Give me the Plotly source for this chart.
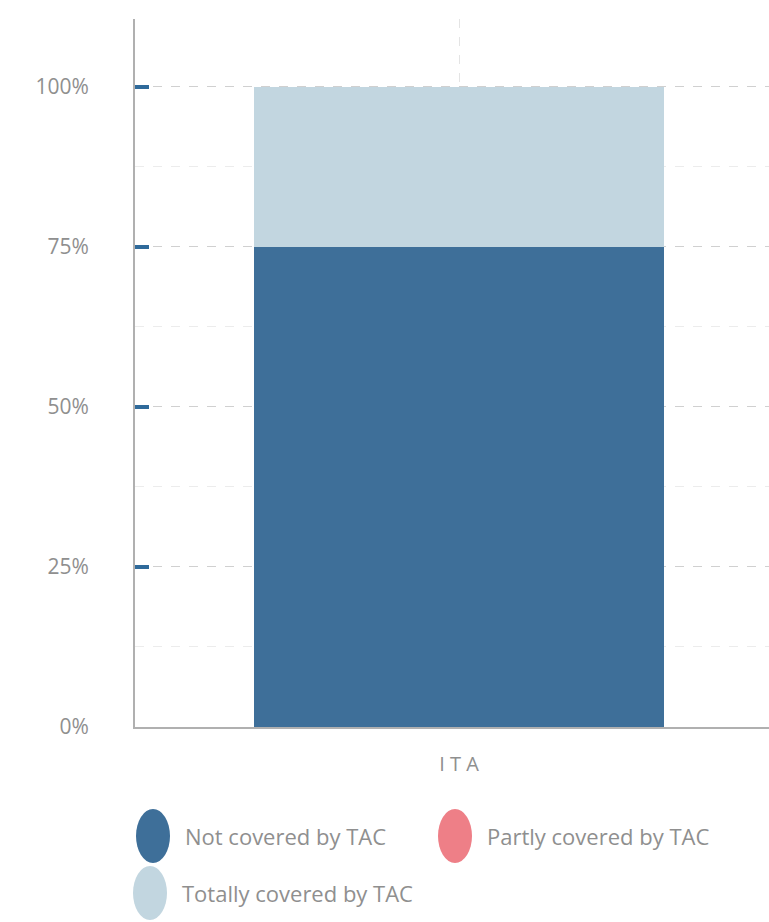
import plotly.graph_objects as go

categories = ["ITA"]
series_names = ["Not covered by TAC", "Partly covered by TAC", "Totally covered by TAC"]
series_values = [[75], [0], [25]]
series_colors = ["#3e6f99", "#ee7f87", "#c2d6e0"]
y_tickvals = [0, 25, 50, 75, 100]
y_ticktext = ["0%", "25%", "50%", "75%", "100%"]

W, H = 769, 922
L, R, T, B = 135, 0, 19, 195
pw, ph = W - L - R, H - T - B

fig = go.Figure()
for name, vals, col in zip(series_names, series_values, series_colors):
    fig.add_trace(go.Bar(x=categories, y=vals, name=name, marker=dict(color=col, line=dict(width=0)),
                         width=0.633, showlegend=False, hoverinfo="skip"))

def px2paper(x, y):
    return (x - L) / pw, (H - B - y) / ph

# custom legend (circle markers + labels)
legend_pos = [(153, 836), (455, 836), (150, 893)]
shapes = []
annotations = []
for (cx, cy), name, col in zip(legend_pos, series_names, series_colors):
    x0, y0 = px2paper(cx - 17, cy + 27)
    x1, y1 = px2paper(cx + 17, cy - 27)
    shapes.append(dict(type="circle", xref="paper", yref="paper", x0=x0, y0=y0, x1=x1, y1=y1,
                       fillcolor=col, line=dict(width=0), layer="above"))
    tx, ty = px2paper(cx + 30, cy)
    annotations.append(dict(xref="paper", yref="paper", x=tx, y=ty, text=name, showarrow=False,
                            xanchor="left", yanchor="middle",
                            font=dict(family="Open Sans", size=22, color="#8f8f8f")))

fig.update_layout(
    barmode="stack",
    width=W, height=H,
    margin=dict(l=L, r=R, t=T, b=B, pad=0),
    paper_bgcolor="white", plot_bgcolor="white",
    shapes=shapes, annotations=annotations,
    font=dict(family="Open Sans", color="#8f8f8f"),
    xaxis=dict(range=[-0.5, 0.478], tickvals=categories, ticktext=["I T A"],
               showline=True, linecolor="#b0b0b0", linewidth=2,
               showgrid=True, gridcolor="#e4e4e4", griddash="dash", gridwidth=1,
               ticks="", tickfont=dict(size=20, color="#8f8f8f"), ticklabelstandoff=18,
               zeroline=False),
    yaxis=dict(range=[0, 110.6], tickvals=y_tickvals, ticktext=y_ticktext,
               showline=True, linecolor="#b0b0b0", linewidth=2,
               ticks="inside", ticklen=14, tickwidth=4, tickcolor="#2f6a9a",
               showgrid=True, gridcolor="#d0d0d0", griddash="dash", gridwidth=1,
               minor=dict(dtick=12.5, showgrid=True, gridcolor="#ececec", griddash="dash", ticks=""),
               tickfont=dict(size=21, color="#8f8f8f"), ticklabelstandoff=40,
               zeroline=False),
)

fig.write_html("out.html")
